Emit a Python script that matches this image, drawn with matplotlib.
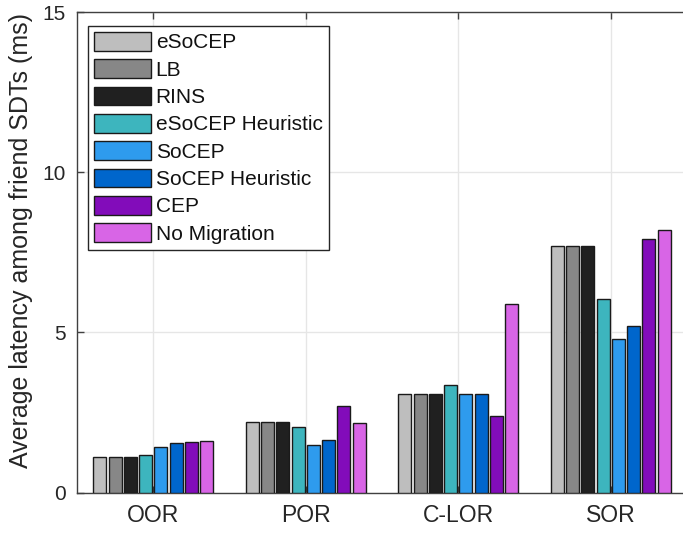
import matplotlib.pyplot as plt
import numpy as np

plt.rcParams['font.family'] = ['Liberation Sans', 'DejaVu Sans']

# data
categories = ['OOR', 'POR', 'C-LOR', 'SOR']
methods = ['eSoCEP', 'LB', 'RINS', 'eSoCEP Heuristic', 'SoCEP',
           'SoCEP Heuristic', 'CEP', 'No Migration']
esocep = [1.12, 2.20, 3.07, 7.70]
lb = [1.12, 2.20, 3.07, 7.70]
rins = [1.12, 2.20, 3.08, 7.70]
esocep_heur = [1.16, 2.03, 3.35, 6.04]
socep = [1.41, 1.47, 3.08, 4.79]
socep_heur = [1.53, 1.63, 3.08, 5.20]
cep = [1.57, 2.70, 2.39, 7.91]
no_migration = [1.60, 2.18, 5.90, 8.20]

series = [esocep, lb, rins, esocep_heur, socep, socep_heur, cep, no_migration]
colors = ['#bebebe', '#878787', '#202020', '#3db5be', '#2e9bee',
          '#0066cc', '#820cba', '#d865e6']

fig = plt.figure(figsize=(6.83, 5.33), dpi=100)
ax = fig.add_axes([77 / 683, 40.5 / 533, 610 / 683, 480.5 / 533])

x = np.arange(1, len(categories) + 1)
step = 0.1
n = len(series)
for i, (vals, col, name) in enumerate(zip(series, colors, methods)):
    offs = (i - (n - 1) / 2) * step
    ax.bar(x + offs, vals, width=0.085, color=col, edgecolor='#1a1a1a',
           linewidth=1.0, label=name, zorder=3)

ax.set_xlim(0.5, 4.5)
ax.set_ylim(0, 15)
ax.set_yticks([0, 5, 10, 15])
ax.set_xticks(x)
ax.set_xticklabels(categories, fontsize=16.5, color='#262626')
ax.tick_params(axis='y', labelsize=15, labelcolor='#262626')
ax.tick_params(direction='in', length=5, width=1, color='#404040',
               top=True, right=False, pad=8)
ax.grid(True, color='#e6e6e6', linewidth=1, zorder=0)
ax.set_axisbelow(True)
for side in ['left', 'bottom', 'top']:
    ax.spines[side].set_color('#404040')
    ax.spines[side].set_linewidth(1)
ax.spines['right'].set_visible(False)

ax.set_ylabel('Average latency among friend SDTs (ms)', fontsize=18,
              color='#262626')
ax.yaxis.set_label_coords(-(77 - 33) / 610, (492.5 - 240) / 480.5)

leg = ax.legend(loc='upper left', bbox_to_anchor=(11 / 610, 1 - 13.7 / 480.5),
                borderaxespad=0, fontsize=15, fancybox=False,
                edgecolor='#262626', framealpha=1, handlelength=2.7,
                handleheight=1.0, labelspacing=0.33, handletextpad=0.25,
                borderpad=0.3)
leg.get_frame().set_linewidth(1)
for t in leg.get_texts():
    t.set_color('#111111')

fig.savefig('out.png', dpi=100)
